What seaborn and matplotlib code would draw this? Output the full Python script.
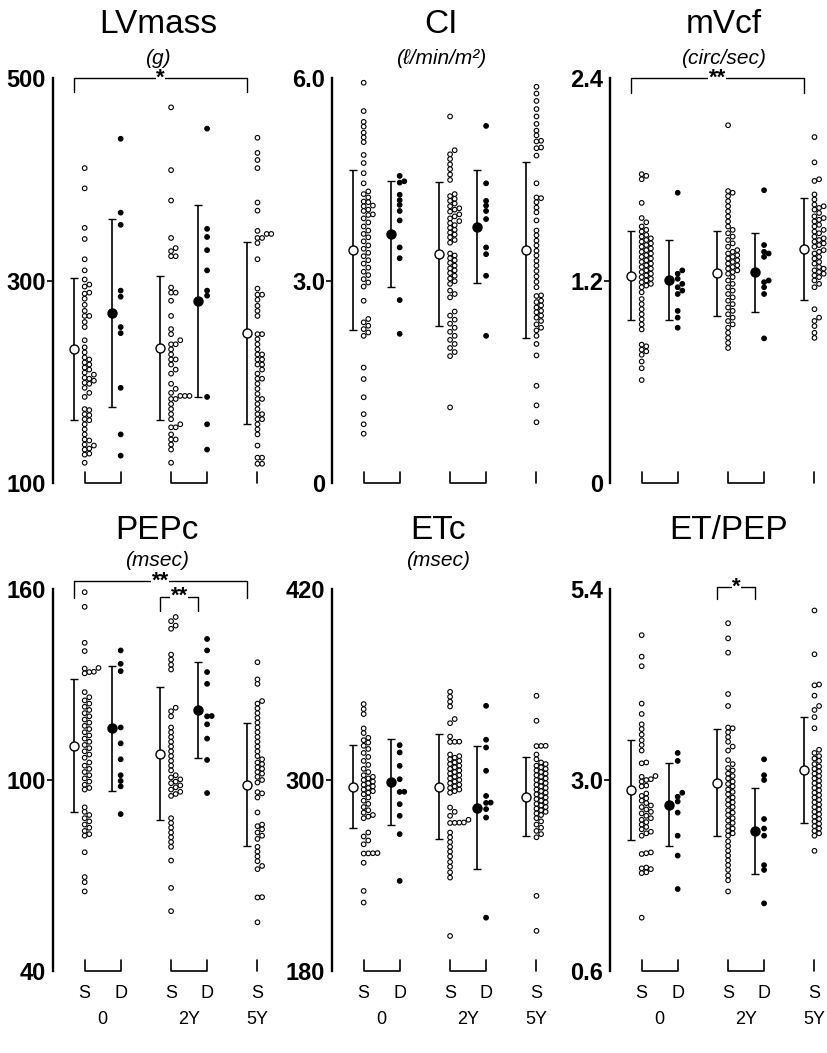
import numpy as np
import pandas as pd
import matplotlib
matplotlib.use("Agg")
import matplotlib.pyplot as plt
import seaborn as sns

sns.set_style("white")
plt.rcParams['font.family'] = ['Liberation Sans', 'DejaVu Sans']
plt.rcParams['text.color'] = 'black'
plt.rcParams['ytick.color'] = 'black'
plt.rcParams['xtick.color'] = 'black'

# group order: S at 0, D at 0, S at 2Y, D at 2Y, S at 5Y
group_kind = ["S", "D", "S", "D", "S"]
group_x = [0, 1, 2.4, 3.4, 4.8]
period_labels = ["0", "2Y", "5Y"]

# ---- LVmass (g)
lvmass_s0 = [411, 391, 352, 341, 321, 310, 301, 296, 294, 288, 287, 282, 276, 270, 265, 265, 259,
             254, 241, 234, 229, 224, 222, 219, 217, 214, 212, 209, 207, 204, 203, 201, 199, 198,
             194, 189, 185, 173, 172, 168, 167, 163, 162, 158, 153, 148, 143, 142, 138, 137, 134,
             133, 129, 128, 120]
lvmass_d0 = [440, 367, 355, 290, 284, 254, 248, 194, 148, 127]
lvmass_s2 = [471, 409, 379, 342, 332, 329, 324, 324, 293, 288, 288, 280, 265, 252, 247, 241, 237,
             237, 232, 227, 222, 222, 217, 212, 208, 198, 193, 189, 186, 186, 186, 183, 183, 178,
             173, 168, 163, 158, 155, 155, 148, 143, 143, 138, 133, 120]
lvmass_d2 = [450, 351, 343, 330, 310, 290, 285, 185, 158, 133]
lvmass_s5 = [441, 426, 419, 411, 377, 369, 349, 346, 346, 342, 342, 337, 321, 292, 286, 286, 281,
             275, 270, 265, 247, 247, 242, 237, 232, 227, 227, 222, 222, 217, 217, 212, 208, 203,
             203, 198, 193, 188, 183, 183, 178, 173, 168, 168, 163, 163, 158, 153, 148, 137, 125,
             125, 119, 119]
lvmass_mean = [232, 268, 233, 280, 248]
lvmass_sd = [70, 93, 71, 95, 90]

# ---- CI (l/min/m2)
ci_s0 = [5.93, 5.51, 5.35, 5.28, 5.19, 5.12, 5.05, 4.86, 4.74, 4.59, 4.44, 4.32, 4.28, 4.23, 4.17,
         4.16, 4.11, 4.10, 4.05, 4.03, 3.98, 3.97, 3.92, 3.86, 3.80, 3.74, 3.69, 3.64, 3.58, 3.52,
         3.47, 3.41, 3.36, 3.30, 3.25, 3.19, 3.13, 3.08, 3.02, 2.97, 2.91, 2.70, 2.43, 2.38, 2.33,
         2.28, 2.23, 2.18, 1.71, 1.54, 1.27, 1.02, 0.87, 0.73]
ci_d0 = [4.55, 4.47, 4.45, 4.27, 4.19, 4.12, 4.03, 3.89, 3.49, 3.33, 2.71, 2.21]
ci_s2 = [5.43, 4.93, 4.87, 4.80, 4.72, 4.65, 4.57, 4.49, 4.28, 4.25, 4.21, 4.18, 4.14, 4.10, 4.07,
         4.05, 4.02, 3.98, 3.95, 3.92, 3.88, 3.85, 3.82, 3.78, 3.75, 3.71, 3.68, 3.64, 3.60, 3.56,
         3.40, 3.37, 3.33, 3.30, 3.26, 3.22, 3.18, 3.15, 3.11, 3.07, 3.03, 2.99, 2.95, 2.85, 2.80,
         2.75, 2.54, 2.48, 2.42, 2.36, 2.30, 2.24, 2.18, 2.12, 2.06, 2.00, 1.94, 1.88, 1.12]
ci_d2 = [5.29, 4.44, 4.18, 4.11, 4.03, 3.91, 3.49, 3.39, 3.07, 2.18]
ci_s5 = [5.87, 5.77, 5.66, 5.54, 5.43, 5.32, 5.22, 5.15, 5.07, 5.06, 4.97, 4.96, 4.85, 4.44, 4.23,
         4.22, 4.16, 4.08, 4.01, 3.89, 3.74, 3.67, 3.59, 3.52, 3.44, 3.37, 3.29, 3.22, 3.14, 3.06,
         2.98, 2.90, 2.78, 2.77, 2.70, 2.68, 2.63, 2.60, 2.55, 2.53, 2.48, 2.45, 2.40, 2.35, 2.30,
         2.26, 2.18, 2.06, 1.89, 1.44, 1.15, 0.90]
ci_mean = [3.45, 3.69, 3.39, 3.80, 3.45]
ci_sd = [1.18, 0.79, 1.07, 0.83, 1.30]

# ---- mVcf (circ/sec)
mvcf_s0 = [1.83, 1.82, 1.80, 1.66, 1.57, 1.545, 1.52, 1.50, 1.49, 1.47, 1.46, 1.45, 1.44, 1.43, 1.42,
           1.41, 1.40, 1.39, 1.38, 1.37, 1.36, 1.35, 1.34, 1.33, 1.32, 1.31, 1.30, 1.29, 1.28, 1.27,
           1.26, 1.25, 1.24, 1.23, 1.22, 1.21, 1.20, 1.19, 1.18, 1.17, 1.16, 1.13, 1.09, 1.06, 1.03,
           1.00, 0.97, 0.94, 0.91, 0.82, 0.81, 0.79, 0.78, 0.76, 0.72, 0.68, 0.61]
mvcf_d0 = [1.72, 1.26, 1.24, 1.21, 1.18, 1.16, 1.14, 1.12, 1.02, 0.98, 0.92]
mvcf_s2 = [2.12, 1.73, 1.72, 1.70, 1.67, 1.64, 1.61, 1.58, 1.55, 1.52, 1.50, 1.48, 1.46, 1.44, 1.42,
           1.40, 1.38, 1.37, 1.36, 1.35, 1.34, 1.33, 1.32, 1.31, 1.30, 1.29, 1.28, 1.27, 1.26, 1.25,
           1.24, 1.22, 1.20, 1.18, 1.16, 1.14, 1.12, 1.10, 1.08, 1.06, 1.04, 1.02, 1.00, 0.98, 0.96,
           0.94, 0.92, 0.89, 0.86, 0.83, 0.80]
mvcf_d2 = [1.735, 1.41, 1.37, 1.36, 1.34, 1.20, 1.19, 1.16, 1.12, 0.857]
mvcf_s5 = [2.05, 1.90, 1.80, 1.79, 1.71, 1.68, 1.65, 1.64, 1.63, 1.62, 1.60, 1.58, 1.57, 1.56, 1.55,
           1.53, 1.52, 1.50, 1.49, 1.48, 1.46, 1.45, 1.44, 1.43, 1.42, 1.41, 1.40, 1.38, 1.37, 1.36,
           1.34, 1.33, 1.31, 1.30, 1.28, 1.27, 1.26, 1.25, 1.24, 1.23, 1.22, 1.20, 1.18, 1.16, 1.03,
           0.98, 0.96, 0.93, 0.89, 0.86]
mvcf_mean = [1.228, 1.204, 1.243, 1.249, 1.386]
mvcf_sd = [0.264, 0.238, 0.253, 0.235, 0.30]

# ---- PEPc (msec)
pepc_s0 = [159, 154.4, 143.1, 140.5, 135.2, 135, 134, 133.9, 133.5, 127.6, 126, 125, 124, 123, 122,
           121, 120, 119, 118, 117, 116, 115, 114, 113, 112, 111, 110, 109, 108, 107, 105.5, 104.5,
           103.5, 102.5, 101.5, 100.5, 99.5, 98.5, 97.5, 97, 91.4, 90, 89, 88, 87, 86, 85, 84, 83,
           82.5, 77.3, 69.5, 67.9, 65]
pepc_d0 = [140.7, 136.5, 134.2, 116.5, 111.5, 106.5, 101.5, 99.7, 98, 89.3]
pepc_s2 = [151.2, 149.9, 148.5, 147.5, 139.4, 137.8, 136.2, 134.7, 122.7, 121.6, 120, 116.5, 115,
           113.5, 112, 110.5, 109, 107.5, 106, 104.5, 103, 101.5, 100.8, 100.2, 99.5, 99, 98.3, 97.7,
           97, 96.3, 95.6, 95, 88, 86.5, 85, 83.5, 82, 80.5, 79, 74.7, 66.1, 58.8]
pepc_d2 = [144.3, 140.7, 133.9, 130.2, 120.1, 120, 117.5, 113, 106.3, 95.9]
pepc_s5 = [137, 131.6, 130.2, 124.8, 124, 122.5, 121, 119.5, 118, 116.5, 115, 113.5, 112, 110.5, 109,
           107.5, 106.5, 105.5, 105, 104, 103.5, 102.5, 102, 101, 100, 99.2, 96.2, 95.8, 94.5, 89.8,
           86, 85.5, 84.5, 83.5, 82.5, 81.5, 79, 77.5, 76, 74.5, 73, 72, 63.2, 63.1, 55.3]
pepc_mean = [110.7, 116.2, 108.3, 122.0, 98.5]
pepc_sd = [20.9, 19.5, 20.8, 15.0, 19.3]

# ---- ETc (msec)
etc_s0 = [347.7, 344.5, 341.4, 332.4, 329.5, 326.5, 325, 323.5, 321.5, 319.5, 317, 314.5, 312, 309.5,
          307, 305, 303, 302, 301, 300, 299, 298, 297, 296, 295, 294, 293, 292, 291, 289, 287, 285,
          283, 281, 279.5, 278, 277, 276, 267, 264.5, 262, 259.6, 254.1, 254, 253.9, 253.8, 248,
          230.3, 223]
etc_d0 = [321.9, 317.3, 308.9, 300.5, 292.6, 292.5, 284.8, 277.5, 266, 236.6]
etc_s2 = [355.4, 352.3, 349.2, 346.2, 338.3, 335.7, 327.3, 324.1, 324, 323.9, 316, 315, 314, 313, 312,
          311, 310, 309, 308, 307, 306, 305, 304, 303, 302, 301, 300, 299, 298, 297, 296, 295, 294,
          293, 292, 282.7, 280, 277.5, 275, 273.3, 273.2, 273.1, 273, 267, 264, 261, 258, 255, 252,
          248.5, 245.5, 242, 238.7, 202]
etc_d2 = [346.6, 325.3, 320.4, 305.8, 290, 285.8, 285.6, 281.7, 276.4, 213.5]
etc_s5 = [352.9, 337.2, 321.5, 321.4, 321.3, 316, 313, 311, 310, 309, 308, 307, 306, 305, 304, 303,
          302, 301, 300, 299, 298, 297, 296, 295, 294, 293, 292, 291, 290, 289, 288, 287, 286, 285,
          284, 283, 282, 281, 280, 279, 278, 276, 274, 272, 270, 268, 266, 264, 227.2, 205.2]
etc_mean = [295.9, 298.8, 295.9, 282.7, 289.6]
etc_sd = [26.1, 26.8, 33.0, 38.8, 24.6]

# ---- ET/PEP
etpep_s0 = [4.82, 4.55, 4.43, 3.96, 3.83, 3.70, 3.64, 3.57, 3.50, 3.44, 3.37, 3.22, 3.21, 3.05, 3.04,
            3.01, 3.00, 2.98, 2.93, 2.92, 2.83, 2.80, 2.77, 2.74, 2.71, 2.68, 2.66, 2.63, 2.60, 2.58,
            2.55, 2.52, 2.50, 2.47, 2.44, 2.41, 2.38, 2.35, 2.33, 2.30, 2.09, 2.08, 2.07, 1.90, 1.89,
            1.88, 1.84, 1.83, 1.27]
etpep_d0 = [3.34, 3.24, 2.84, 2.79, 2.73, 2.59, 2.30, 2.05, 1.63]
etpep_s2 = [4.97, 4.78, 4.60, 4.08, 3.93, 3.66, 3.65, 3.60, 3.54, 3.48, 3.42, 3.37, 3.25, 3.20, 3.15,
            3.12, 3.08, 3.05, 3.02, 2.98, 2.95, 2.92, 2.88, 2.85, 2.82, 2.78, 2.75, 2.72, 2.69, 2.66,
            2.62, 2.59, 2.56, 2.52, 2.49, 2.46, 2.42, 2.39, 2.36, 2.33, 2.30, 2.23, 2.17, 2.11, 2.05,
            1.99, 1.93, 1.87, 1.80, 1.74, 1.60]
etpep_d2 = [3.26, 3.06, 3.00, 2.51, 2.39, 2.30, 1.93, 1.87, 1.45]
etpep_s5 = [5.13, 4.58, 4.20, 4.19, 4.06, 3.93, 3.88, 3.79, 3.65, 3.38, 3.34, 3.30, 3.27, 3.24, 3.20,
            3.17, 3.14, 3.11, 3.08, 3.05, 3.02, 2.99, 2.96, 2.93, 2.90, 2.87, 2.84, 2.81, 2.78, 2.75,
            2.72, 2.69, 2.66, 2.63, 2.60, 2.57, 2.54, 2.51, 2.48, 2.45, 2.42, 2.39, 2.36, 2.33, 2.30,
            2.11]
etpep_mean = [2.876, 2.69, 2.967, 2.359, 3.124]
etpep_sd = [0.625, 0.52, 0.67, 0.536, 0.662]

# panel settings built from the arrays above
panels = [
    dict(title="LVmass", unit="(g)", groups=[lvmass_s0, lvmass_d0, lvmass_s2, lvmass_d2, lvmass_s5],
         mean=lvmass_mean, sd=lvmass_sd, ylim=(100, 500), ticks=[100, 300, 500],
         ticklabels=["100", "300", "500"], tx=105,
         sig=[(0, 4, 500, 486, "*")]),
    dict(title="CI", unit="(ℓ/min/m²)", groups=[ci_s0, ci_d0, ci_s2, ci_d2, ci_s5],
         mean=ci_mean, sd=ci_sd, ylim=(0, 6.0), ticks=[0, 3.0, 6.0],
         ticklabels=["0", "3.0", "6.0"], tx=109, sig=[]),
    dict(title="mVcf", unit="(circ/sec)", groups=[mvcf_s0, mvcf_d0, mvcf_s2, mvcf_d2, mvcf_s5],
         mean=mvcf_mean, sd=mvcf_sd, ylim=(0, 2.4), ticks=[0, 1.2, 2.4],
         ticklabels=["0", "1.2", "2.4"], tx=114,
         sig=[(0, 4, 2.4, 2.31, "**")]),
    dict(title="PEPc", unit="(msec)", groups=[pepc_s0, pepc_d0, pepc_s2, pepc_d2, pepc_s5],
         mean=pepc_mean, sd=pepc_sd, ylim=(40, 160), ticks=[40, 100, 160],
         ticklabels=["40", "100", "160"], tx=104,
         sig=[(0, 4, 162.6, 157.2, "**"), (2, 3, 157.6, 153.0, "**")]),
    dict(title="ETc", unit="(msec)", groups=[etc_s0, etc_d0, etc_s2, etc_d2, etc_s5],
         mean=etc_mean, sd=etc_sd, ylim=(180, 420), ticks=[180, 300, 420],
         ticklabels=["180", "300", "420"], tx=106, sig=[]),
    dict(title="ET/PEP", unit="", groups=[etpep_s0, etpep_d0, etpep_s2, etpep_d2, etpep_s5],
         mean=etpep_mean, sd=etpep_sd, ylim=(0.6, 5.4), ticks=[0.6, 3.0, 5.4],
         ticklabels=["0.6", "3.0", "5.4"], tx=119,
         sig=[(2, 3, 5.42, 5.27, "*")]),
]

W, H = 828, 1053
PX_PER_X = 36.0          # pixels per x unit
DOT_PX = 4.6             # dot diameter in pixels
XLIM = (-0.88, 5.4)
spine_x = [53, 332, 610]
row_y = [(78, 483), (589, 971)]


def one_sided_swarm(values, px_per_val):
    """column index for each dot, stacking to the right when dots would overlap"""
    values = np.asarray(values, dtype=float)
    cols = []
    out = np.zeros(len(values))
    for i in np.argsort(values):
        y = values[i] * px_per_val
        k = 0
        while True:
            if k == len(cols):
                cols.append([])
            if all(abs(y - yy) >= DOT_PX * 0.92 for yy in cols[k]):
                cols[k].append(y)
                out[i] = k
                break
            k += 1
    return out


fig = plt.figure(figsize=(W / 100, H / 100), dpi=100)

for idx, p in enumerate(panels):
    r, c = divmod(idx, 3)
    top, bot = row_y[r]
    left = spine_x[c]
    width_px = (XLIM[1] - XLIM[0]) * PX_PER_X
    height_px = bot - top
    ax = fig.add_axes([left / W, 1 - bot / H, width_px / W, height_px / H])
    ylo, yhi = p["ylim"]
    px_per_val = height_px / (yhi - ylo)

    rows = []
    for g, vals in enumerate(p["groups"]):
        cols = one_sided_swarm(vals, px_per_val)
        for v, k in zip(vals, cols):
            rows.append({"x": group_x[g] + k * DOT_PX / PX_PER_X, "value": v,
                         "kind": group_kind[g]})
    df = pd.DataFrame(rows)
    sns.scatterplot(data=df, x="x", y="value", hue="kind",
                    palette={"S": "white", "D": "black"}, edgecolor="black",
                    linewidth=0.8, s=11, legend=False, ax=ax, clip_on=False, zorder=3)

    # mean +/- SD
    for g in range(5):
        off = -0.3 if group_kind[g] == "S" else -0.25
        ax.errorbar(group_x[g] + off, p["mean"][g], yerr=p["sd"][g], fmt="o",
                    mfc="white" if group_kind[g] == "S" else "black", mec="black",
                    mew=1.0, ms=6.5, ecolor="black", elinewidth=1.2, capsize=2.6,
                    capthick=1.2, zorder=4, clip_on=False)

    ax.set_xlim(*XLIM)
    ax.set_ylim(ylo, yhi)
    ax.set_xticks([])
    ax.set_xlabel("")
    ax.set_ylabel("")
    for s in ["top", "right", "bottom"]:
        ax.spines[s].set_visible(False)
    ax.spines["left"].set_linewidth(1.7)
    ax.spines["left"].set_color("black")

    ax.set_yticks(p["ticks"])
    ax.set_yticklabels(p["ticklabels"], fontsize=17, fontweight="bold")
    ax.tick_params(axis="y", which="major", direction="out", length=4, width=1.2,
                   pad=1, left=True)
    ticks = ax.yaxis.get_major_ticks()
    ticks[0].tick1line.set_visible(False)
    ticks[-1].tick1line.set_visible(False)
    ax.set_yticks([ylo, yhi], minor=True)
    ax.tick_params(axis="y", which="minor", direction="in", length=7.5, width=1.2, left=True)

    # brackets under S/D columns
    tr = ax.get_xaxis_transform()
    hb = 11 / height_px
    for a, b in [(0, 1), (2, 3)]:
        ax.plot([group_x[a], group_x[a], group_x[b], group_x[b]], [hb, 0, 0, hb],
                color="black", lw=1.2, transform=tr, clip_on=False)
    ax.plot([group_x[4], group_x[4]], [0, hb], color="black", lw=1.2, transform=tr,
            clip_on=False)

    # significance brackets
    for a, b, yl, ye, star in p["sig"]:
        xa = group_x[a] - 0.3
        xb = group_x[b] - (0.3 if group_kind[b] == "S" else 0.25)
        ax.plot([xa, xa, xb, xb], [ye, yl, yl, ye], color="black", lw=1.0, clip_on=False)
        ax.text((xa + xb) / 2, yl, star, ha="center", va="center", fontsize=16,
                fontweight="bold", bbox=dict(facecolor="white", edgecolor="none", pad=0.2),
                clip_on=False, zorder=5)

    # titles
    cx = left + p["tx"]
    fig.text(cx / W, 1 - (33 if r == 0 else 539) / H, p["title"], ha="center",
             va="baseline", fontsize=24)
    if p["unit"]:
        fig.text(cx / W, 1 - (58 if r == 0 else 561) / H, p["unit"], ha="center",
                 va="center", fontsize=15, style="italic")

    # x labels in bottom row
    if r == 1:
        for g in range(5):
            ax.text(group_x[g], -(993 - bot) / height_px, group_kind[g], transform=tr,
                    ha="center", va="center", fontsize=13)
        for lab, xx in zip(period_labels, [(group_x[0] + group_x[1]) / 2,
                                           (group_x[2] + group_x[3]) / 2, group_x[4]]):
            ax.text(xx, -(1020 - bot) / height_px, lab, transform=tr, ha="center",
                    va="center", fontsize=13)

fig.savefig("out.png", dpi=100, facecolor="white")
